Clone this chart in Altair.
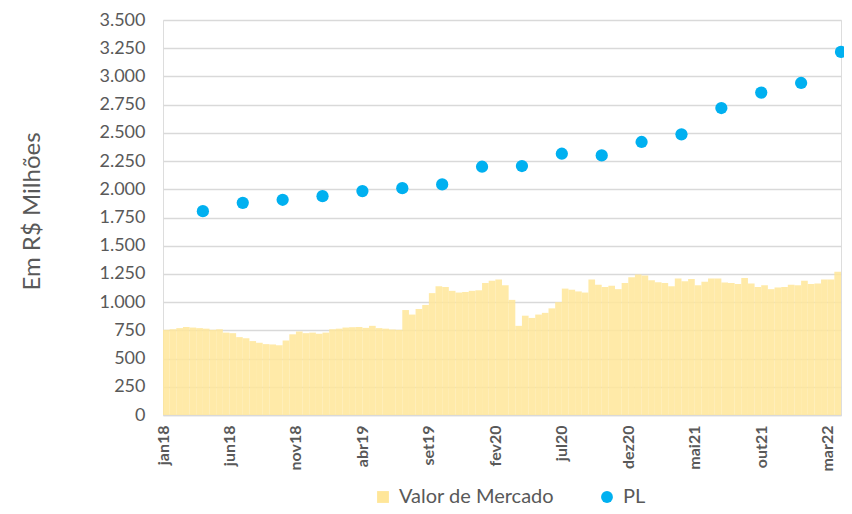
import altair as alt
import pandas as pd

# X axis tick labels (every 5 months, month index 0 = jan18)
x_tick_labels = ["jan18", "jun18", "nov18", "abr19", "set19", "fev20",
                 "jul20", "dez20", "mai21", "out21", "mar22"]
x_tick_months = [0, 5, 10, 15, 20, 25, 30, 35, 40, 45, 50]

# Valor de Mercado (R$ milhões), half-monthly readings jan18 .. mar22
mv_values = [
    755, 760, 770, 780, 775, 770, 765, 755, 760, 730,
    725, 690, 680, 655, 640, 628, 625, 618, 660, 715,
    740, 725, 730, 720, 730, 760, 765, 775, 778, 780,
    772, 790, 770, 765, 758, 755, 930, 890, 940, 975,
    1080, 1140, 1135, 1100, 1085, 1090, 1100, 1105, 1170, 1190,
    1200, 1150, 1020, 790, 880, 860, 890, 905, 945, 1000,
    1120, 1110, 1095, 1085, 1200, 1155, 1135, 1145, 1115, 1170,
    1220, 1245, 1235, 1195, 1176, 1170, 1140, 1210, 1185, 1205,
    1150, 1180, 1210, 1210, 1175, 1170, 1160, 1215, 1165, 1135,
    1150, 1115, 1130, 1135, 1155, 1150, 1190, 1160, 1165, 1200,
    1200, 1270,
]

# PL (R$ milhões), quarterly, plotted at quarter end (month index)
pl_quarters = ["1T18", "2T18", "3T18", "4T18", "1T19", "2T19", "3T19", "4T19",
               "1T20", "2T20", "3T20", "4T20", "1T21", "2T21", "3T21", "4T21", "1T22"]
pl_month_end = [3, 6, 9, 12, 15, 18, 21, 24, 27, 30, 33, 36, 39, 42, 45, 48, 51]
pl_values = [1806, 1880, 1907, 1939, 1984, 2010, 2043, 2200, 2206,
             2315, 2300, 2419, 2487, 2720, 2857, 2942, 3217]

series_names = ["Valor de Mercado", "PL"]
series_colors = ["#FFE699", "#00B0F0"]
y_ticks = list(range(0, 3501, 250))

df_bar = pd.DataFrame({
    "start": [i * 0.5 for i in range(len(mv_values))],
    "end": [i * 0.5 + 0.5 for i in range(len(mv_values))],
    "value": mv_values,
    "zero": [0] * len(mv_values),
    "series": ["Valor de Mercado"] * len(mv_values),
})
df_pl = pd.DataFrame({
    "quarter": pl_quarters,
    "month": pl_month_end,
    "value": pl_values,
    "series": ["PL"] * len(pl_values),
})

label_array = "[" + ",".join("'%s'" % s for s in x_tick_labels) + "]"

xscale = alt.Scale(domain=[0, 51], nice=False, zero=False)
yscale = alt.Scale(domain=[0, 3500], nice=False)
cscale = alt.Scale(domain=series_names, range=series_colors)
sscale = alt.Scale(domain=series_names, range=["square", "circle"])

legend = alt.Legend(
    title=None, orient="none", legendX=210, legendY=467, direction="horizontal",
    labelFontSize=20, labelColor="#595959", labelFont="Lato", symbolSize=140,
    columnPadding=42, labelOffset=6, padding=0, symbolStrokeWidth=0,
    symbolOpacity=1, labelBaseline="middle",
)

x_axis = alt.Axis(
    values=x_tick_months, labelExpr=label_array + "[round(datum.value/5)]",
    labelAngle=-90, labelFontWeight="bold", labelFontSize=16, labelColor="#595959",
    ticks=False, grid=False, domainColor="#D9D9D9", domainWidth=1.5,
    labelPadding=10, title=None, labelFont="Lato", labelOverlap=False,
)
y_axis = alt.Axis(
    values=y_ticks, labelExpr="replace(format(datum.value, ',.0f'), ',', '.')",
    grid=True, gridColor="#D9D9D9", gridWidth=1.3, ticks=False, domain=False,
    labelPadding=18, labelFontSize=18, labelColor="#595959", labelFont="Lato",
    labelOverlap=False,
    title="Em R$ Milhões", titleFontSize=24, titleFontWeight="normal",
    titleColor="#595959", titleFont="Lato", titleX=-131, titleY=191,
    titleAngle=-90, titleAlign="center", titleBaseline="middle",
)

bars = alt.Chart(df_bar).mark_rect(fillOpacity=0.85).encode(
    x=alt.X("start:Q", scale=xscale, axis=x_axis),
    x2="end:Q",
    y=alt.Y("value:Q", scale=yscale, axis=y_axis),
    y2="zero:Q",
    color=alt.Color("series:N", scale=cscale, legend=legend),
)

points = alt.Chart(df_pl).mark_point(filled=True, size=150, opacity=1).encode(
    x=alt.X("month:Q", scale=xscale, axis=x_axis),
    y=alt.Y("value:Q", scale=yscale, axis=y_axis),
    color=alt.Color("series:N", scale=cscale, legend=legend),
    shape=alt.Shape("series:N", scale=sscale, legend=legend),
)

chart = alt.layer(bars, points).properties(
    width=678, height=395,
    padding={"left": 155, "top": 12, "right": 3, "bottom": 91},
    autosize="none",
).configure_view(stroke=None).configure(font="Lato")

chart.save("out.html", embed_options={"renderer": "svg", "actions": False})
